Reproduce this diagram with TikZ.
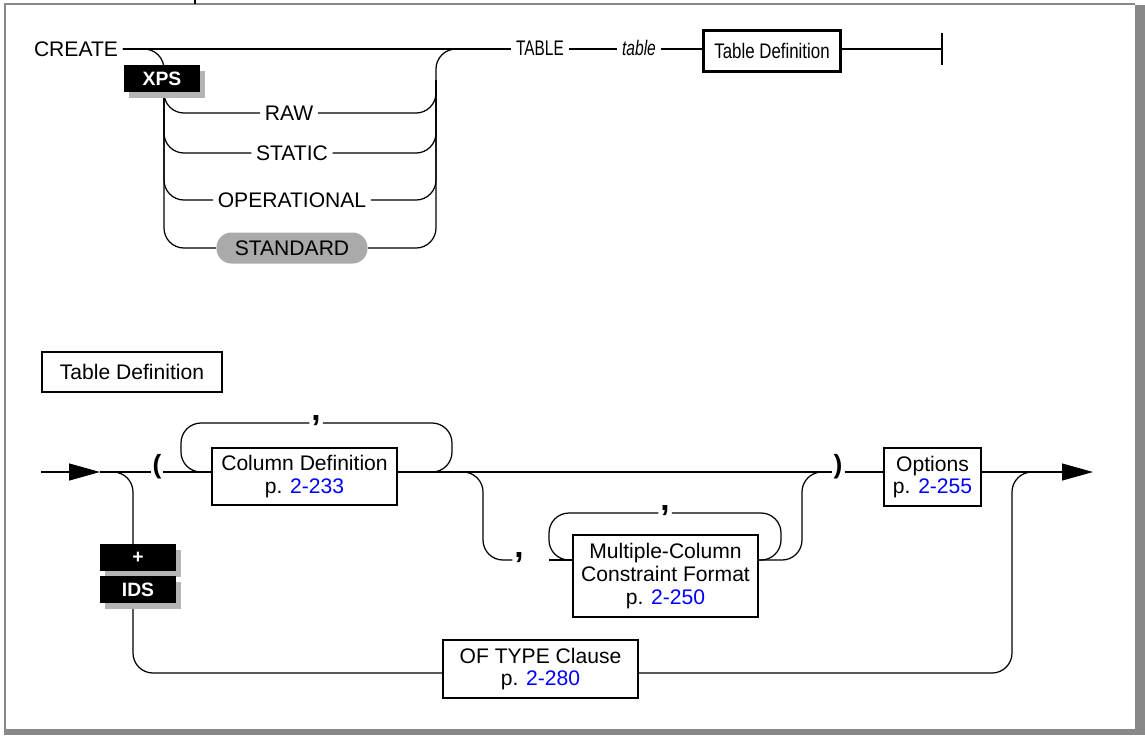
\documentclass[tikz,border=0pt]{standalone}
\usepackage{fontspec}
\setmainfont{Liberation Sans}
\usetikzlibrary{arrows.meta,shadows}

\definecolor{framegray}{RGB}{136,136,136}
\definecolor{shadegray}{RGB}{180,180,180}
\definecolor{pillgray}{RGB}{170,170,170}
\definecolor{linkblue}{RGB}{0,0,255}

\newcommand{\pg}[1]{p. \textcolor{linkblue}{#1}}
\newcommand{\narrow}[2]{\scalebox{#1}[1]{#2}}

\tikzset{
  rail/.style={line width=0.7pt, rounded corners=0.4cm},
  railtip/.style={line width=0.7pt, -{Triangle[length=0.62cm,width=0.34cm]}},
  kw/.style={inner xsep=2.5pt, inner ysep=1pt},
  punct/.style={font=\fontsize{15}{15}\selectfont\bfseries, inner sep=1pt},
  sep/.style={font=\fontsize{19}{19}\selectfont\bfseries, inner sep=1pt},
  synbox/.style={draw, line width=1.3pt, fill=white, align=center, inner sep=2pt},
  tag/.style={fill=black, text=white, font=\fontsize{11}{11}\selectfont\bfseries,
    minimum width=1.52cm, minimum height=0.54cm, inner sep=0pt,
    general shadow={fill=shadegray, shadow xshift=0.1cm, shadow yshift=-0.12cm}},
  pill/.style={fill=pillgray, rounded corners=0.3cm, minimum width=3.02cm,
    minimum height=0.62cm, inner sep=0pt}
}

\begin{document}
\begin{tikzpicture}[x=0.02cm, y=-0.02cm, font=\fontsize{12}{13}\selectfont]
 \useasboundingbox (0,0) rectangle (1145,735);
 \fill[white] (0,0) rectangle (1145,735);
 % page frame
 \draw[framegray, line width=1.2pt] (5,729) -- (5,4) -- (1135,4);
 \fill[framegray] (1135,5) rectangle (1145,735);
 \fill[framegray] (4,729) rectangle (1145,735);
 \draw[line width=0.6pt] (195,0) -- (195,4);

 %%%%%%%%%%%%%%%%%%%%%%%%%%%%%%%%%%%
 % CREATE ... TABLE table
 \node[kw] (create) at (76,49) {CREATE};
 \node[kw] (kwtable) at (540,48) {\narrow{0.73}{TABLE}};
 \node[kw] (tblname) at (639,48) {\narrow{0.74}{\itshape table}};
 \node[synbox, minimum width=2.74cm, minimum height=0.82cm] (tabdef) at (772,51) {\narrow{0.8}{Table Definition}};
 \coordinate (stop) at (942,49);
 \draw[rail] (create.east) -- (create.east -| kwtable.west)
   (stop -| kwtable.east) -- (stop -| tblname.west)
   (stop -| tblname.east) -- (stop -| tabdef.west) (stop -| tabdef.east) -- (stop);
 \draw[line width=1pt] (stop) ++(0,-16) -- ++(0,32);

 \node[kw] (raw) at (289,113) {RAW};
 \node[kw] (static) at (292,153) {STATIC};
 \node[kw] (oper) at (292,200) {OPERATIONAL};
 \node[pill] (standard) at (292,248) {STANDARD};

 \draw[rail] (create.east) -| (164,248) -- (standard.west);
 \draw[rail] (standard.east) -| (436,49) -- (480,49);
 \foreach \row in {raw,static,oper}{
   \draw[rail] (164,80) |- (\row.west);
   \draw[rail] (\row.east) -| (436,80);
 }
 \node[tag] (xps) at (162,78.5) {XPS};

 %%%%%%%%%%%%%%%%%%%%%%%%%%%%%%%%%%%
 % Table Definition
 \node[synbox, minimum width=3.6cm, minimum height=0.8cm] (deflabel) at (132,372) {Table Definition};

 \coordinate (start) at (41,472);
 \coordinate (entry) at (100,472);
 \coordinate (exit) at (1093,472);
 \node[punct] (lpar) at (157,467) {(};
 \node[punct] (rpar) at (838,467) {)};
 \node[synbox, minimum width=3.7cm, minimum height=1.14cm] (coldef) at (304.5,476.5) {Column Definition\\\pg{2-233}};
 \node[synbox, minimum width=1.94cm, minimum height=1.16cm] (opts) at (932.5,477) {Options\\\pg{2-255}};

 \draw[railtip] (start) -- (entry);
 \draw[rail] (entry) -- (entry -| lpar.west);
 \draw[rail] (entry -| lpar.east) -- (entry -| coldef.west);
 \draw[rail] (entry -| coldef.east) -- (entry -| rpar.west);
 \draw[rail] (entry -| rpar.east) -- (entry -| opts.west);
 \draw[railtip] (entry -| opts.east) -- (exit);

 % repeat loop over Column Definition
 \coordinate (la) at (181,423);
 \coordinate (lb) at (452,423);
 \node[sep, anchor=base] (comma1) at (316,420) {,};
 \draw[rail] (entry -| coldef.west) -| (la) -- (la -| comma1.west);
 \draw[rail] (la -| comma1.east) -- (lb) |- (entry -| coldef.east);

 % optional constraints
 \coordinate (fork) at (440,472);
 \coordinate (rb) at (483,560);
 \coordinate (mcin) at (549,560);
 \coordinate (re) at (802,560);
 \node[sep] (comma2) at (519,558) {,};
 \node[synbox, minimum width=3.7cm, minimum height=1.64cm] (mcc) at (665.5,576)
   {Multiple-Column\\Constraint Format\\\pg{2-250}};
 \draw[rail] (fork) -| (rb) -- (rb -| comma2.west);
 \draw[rail] (mcin) -- (mcin -| mcc.west);
 \draw[rail] (mcin -| mcc.east) -| (re |- entry) -- (entry -| rpar.west);

 \coordinate (lc) at (549,513);
 \coordinate (ld) at (781,513);
 \node[sep, anchor=base] (comma3) at (665,510) {,};
 \draw[rail] (mcin -| mcc.west) -| (lc) -- (lc -| comma3.west);
 \draw[rail] (lc -| comma3.east) -- (ld) |- (mcin -| mcc.east);

 % OF TYPE path
 \coordinate (lo) at (133,673);
 \coordinate (ro) at (1012,673);
 \node[synbox, minimum width=3.9cm, minimum height=1.16cm] (oftype) at (540.5,669) {OF TYPE Clause\\\pg{2-280}};
 \draw[rail] (entry) -| (lo) -- (lo -| oftype.west);
 \draw[rail] (lo -| oftype.east) -- (ro) |- (1050,472);

 \node[tag] (plus) at (138,557.5) {+};
 \node[tag] (ids) at (138,589.5) {IDS};
\end{tikzpicture}
\end{document}
